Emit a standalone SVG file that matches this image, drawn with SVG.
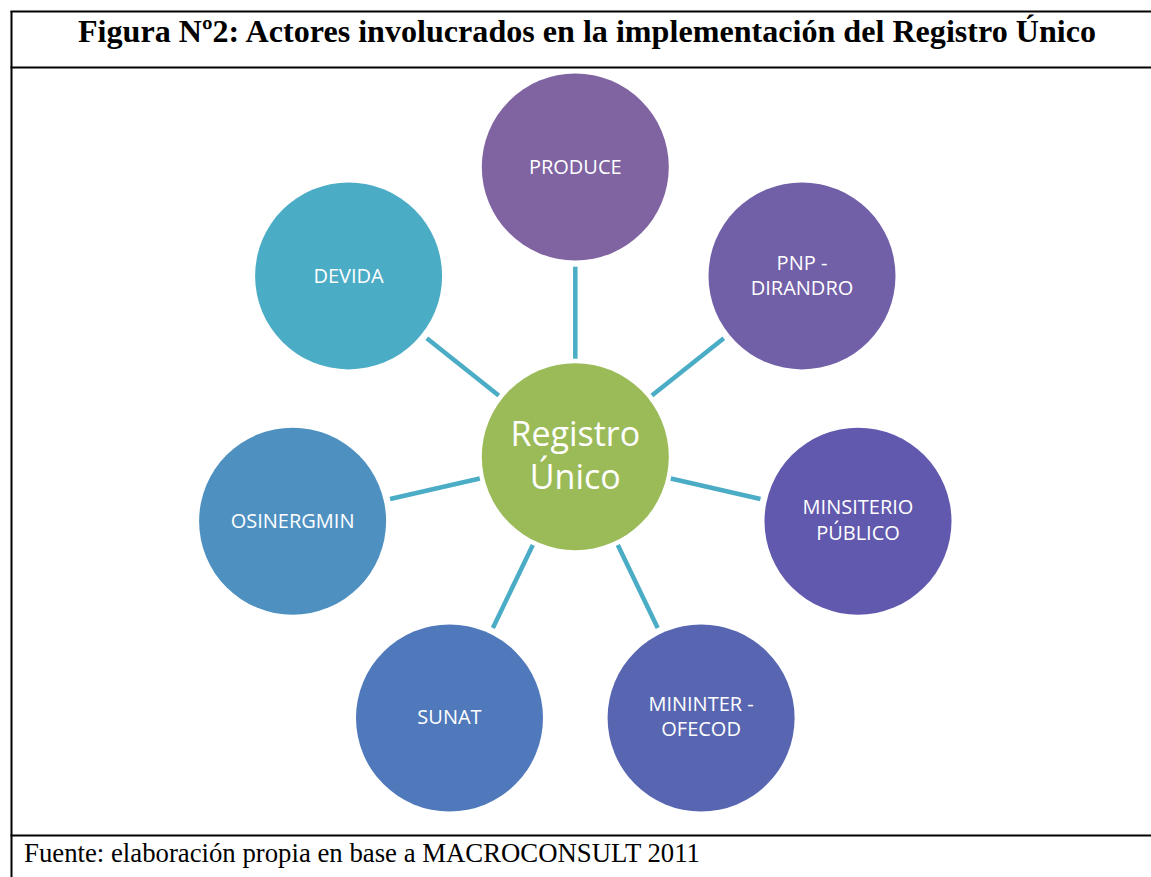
<svg xmlns="http://www.w3.org/2000/svg" width="1151" height="877" viewBox="0 0 1151 877">
<style>
.frame{stroke:#000;stroke-width:2;fill:none}
.title{font-family:"Liberation Serif",serif;font-weight:bold;font-size:32px;fill:#000}
.foot{font-family:"Liberation Serif",serif;font-size:26.5px;fill:#000}
.lbl{font-family:"Open Sans","DejaVu Sans",sans-serif;font-size:20px;fill:#fff;text-anchor:middle}
.big{font-family:"Open Sans","DejaVu Sans",sans-serif;font-size:34px;fill:#fff;text-anchor:middle}
.conn line{stroke:#4BACC6;stroke-width:4.5}
</style>
<rect width="1151" height="877" fill="#fff"/>
<g id="frame">
<line class="frame" x1="11.5" y1="11" x2="11.5" y2="877"/>
<line class="frame" x1="10.5" y1="11.5" x2="1151" y2="11.5"/>
<line class="frame" x1="10.5" y1="67.5" x2="1151" y2="67.5"/>
<line class="frame" x1="10.5" y1="835.5" x2="1151" y2="835.5"/>
</g>
<text class="title" x="587" y="42" text-anchor="middle" textLength="1018" lengthAdjust="spacingAndGlyphs">Figura Nº2: Actores involucrados en la implementación del Registro Único</text>
<text class="foot" x="24" y="862" textLength="676" lengthAdjust="spacingAndGlyphs">Fuente: elaboración propia en base a MACROCONSULT 2011</text>
<g class="conn" id="connectors">
<line x1="575.3" y1="358.7" x2="575.3" y2="266.7"/>
<line x1="651.9" y1="395.6" x2="723.8" y2="338.2"/>
<line x1="670.8" y1="478.5" x2="760.5" y2="499.0"/>
<line x1="617.8" y1="545.0" x2="657.7" y2="627.9"/>
<line x1="532.8" y1="545.0" x2="492.9" y2="627.9"/>
<line x1="479.8" y1="478.5" x2="390.1" y2="499.0"/>
<line x1="498.7" y1="395.6" x2="426.8" y2="338.2"/>
</g>
<g id="registro">
<circle cx="575.3" cy="456.7" r="93.5" fill="#9BBB59"/>
<text class="big" x="575.3" y="446">Registro</text>
<text class="big" x="575.3" y="489">Único</text>
</g>
<g id="produce">
<circle cx="575.3" cy="167" r="93.5" fill="#8064A2"/>
<text class="lbl" x="575.3" y="174">PRODUCE</text>
</g>
<g id="pnp">
<circle cx="802" cy="275.9" r="93.5" fill="#7160A8"/>
<text class="lbl" x="802" y="270">PNP -</text>
<text class="lbl" x="802" y="295">DIRANDRO</text>
</g>
<g id="ministerio">
<circle cx="858" cy="521.2" r="93.5" fill="#6159AD"/>
<text class="lbl" x="858" y="514">MINSITERIO</text>
<text class="lbl" x="858" y="540">PÚBLICO</text>
</g>
<g id="mininter">
<circle cx="701.1" cy="718" r="93.5" fill="#5866B1"/>
<text class="lbl" x="701.1" y="711">MININTER -</text>
<text class="lbl" x="701.1" y="736">OFECOD</text>
</g>
<g id="sunat">
<circle cx="449.5" cy="718" r="93.5" fill="#5079BC"/>
<text class="lbl" x="449.5" y="724">SUNAT</text>
</g>
<g id="osinergmin">
<circle cx="292.6" cy="521.2" r="93.5" fill="#4E91C1"/>
<text class="lbl" x="292.6" y="528">OSINERGMIN</text>
</g>
<g id="devida">
<circle cx="348.6" cy="275.9" r="93.5" fill="#4BACC6"/>
<text class="lbl" x="348.6" y="283">DEVIDA</text>
</g>
</svg>
